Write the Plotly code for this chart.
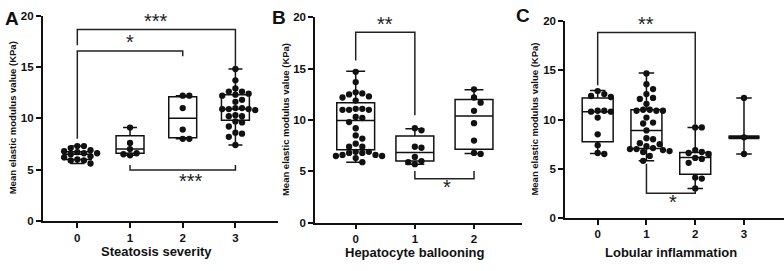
import plotly.graph_objects as go

W, H = 784, 271
FONT = "Liberation Sans"
INK = "#111111"

# ---------------- data ----------------
# Panel A: Steatosis severity
A_ticks = ["0", "1", "2", "3"]
A_g0 = [7.3, 7.3, 7.1, 6.9, 6.8, 6.7, 6.6, 6.6, 6.5, 6.3, 6.2, 6.0, 5.9, 5.9, 5.6]
A_g1 = [9.1, 7.6, 7.0, 6.6, 6.5, 6.4]
A_g2 = [12.2, 12.2, 11.0, 8.9, 8.0, 8.0]
A_g3 = [14.8, 13.7, 12.9, 12.6, 12.6, 12.4, 12.3, 12.2, 11.8, 11.6, 11.0, 11.0, 10.9,
        10.9, 10.9, 10.8, 10.3, 10.2, 10.2, 9.7, 9.6, 9.2, 8.6, 8.5, 8.2, 7.4]
A_q1 = [6.0, 6.6, 8.1, 9.8]
A_med = [6.5, 7.0, 10.0, 10.9]
A_q3 = [6.75, 8.3, 12.1, 12.3]
A_lo = [5.6, 6.4, 8.0, 7.4]
A_hi = [7.3, 9.1, 12.2, 14.8]

# Panel B: Hepatocyte ballooning
B_ticks = ["0", "1", "2"]
B_g0 = [14.7, 13.7, 12.7, 12.6, 12.5, 12.3, 12.2, 11.9, 11.1, 11.0, 11.0, 11.0, 11.1,
        10.3, 10.2, 9.8, 9.2, 8.5, 8.2, 7.7, 7.4, 7.4, 6.9, 6.9, 6.8, 6.8, 6.6, 6.6,
        6.5, 6.5, 6.3, 5.9]
B_g1 = [9.2, 9.0, 7.4, 7.3, 6.4, 6.0, 5.9, 5.7]
B_g2 = [13.0, 12.2, 11.7, 10.9, 9.7, 8.0, 6.8, 6.7]
B_q1 = [7.1, 6.0, 7.15]
B_med = [9.95, 6.85, 10.4]
B_q3 = [11.7, 8.45, 12.0]
B_lo = [5.9, 5.7, 6.75]
B_hi = [14.75, 9.15, 12.95]

# Panel C: Lobular inflammation
C_ticks = ["0", "1", "2", "3"]
C_g0 = [12.9, 12.6, 12.4, 12.3, 10.9, 10.9, 10.8, 10.8, 10.2, 8.5, 7.4, 6.6, 6.5]
C_g1 = [14.7, 13.6, 13.1, 12.6, 12.2, 12.1, 11.6, 11.0, 11.0, 10.9, 10.9, 10.9, 10.2,
        9.7, 9.6, 8.9, 8.1, 8.0, 7.6, 7.5, 7.3, 7.1, 7.0, 7.0, 6.9, 6.8, 6.7, 6.3, 5.8]
C_g2 = [9.2, 9.2, 6.9, 6.7, 6.6, 6.5, 6.1, 6.0, 5.6, 4.1, 4.0, 3.0]
C_g3 = [12.2, 8.2, 6.5]
C_q1 = [7.75, 7.05, 4.45, 8.2]
C_med = [10.8, 8.9, 6.15, 8.2]
C_q3 = [12.2, 11.0, 6.65, 8.2]
C_lo = [6.55, 5.8, 3.0, 6.5]
C_hi = [12.95, 14.75, 9.2, 12.2]

Y_TICKS = [0, 5, 10, 15, 20]

# significance brackets: (from, to, bar y, leg-end y from, leg-end y to, label, label x, label y)
A_sig = [(0, 3, 18.64, 17.1, 15.0, "***", 1.5, 19.45),
         (0, 2, 16.55, 8.0, 16.05, "*", 1.0, 17.4),
         (1, 3, 4.97, 5.45, 5.45, "***", 2.15, 3.85)]
B_sig = [(0, 1, 18.57, 15.8, 10.47, "**", 0.5, 19.35),
         (1, 2, 4.29, 5.03, 5.03, "*", 1.54, 3.45)]
C_sig = [(0, 2, 18.87, 13.5, 9.5, "**", 1.0, 19.7),
         (1, 2, 2.5, 5.5, 2.8, "*", 1.55, 1.65)]

# ---------------- layout geometry (px) ----------------
panels = [
    dict(groups=[A_g0, A_g1, A_g2, A_g3], ticks=A_ticks, q1=A_q1, med=A_med, q3=A_q3,
         lo=A_lo, hi=A_hi, sig=A_sig, title="Steatosis severity", letter="A",
         xpx=(42.7, 278.0), xr=(-0.657, 3.808), ypx=(10.0, 225.0), bw=0.53,
         ytitle_x=12, xtitle_y=256.5, letter_xy=(12, 13)),
    dict(groups=[B_g0, B_g1, B_g2], ticks=B_ticks, q1=B_q1, med=B_med, q3=B_q3,
         lo=B_lo, hi=B_hi, sig=B_sig, title="Hepatocyte ballooning", letter="B",
         xpx=(315.0, 521.7), xr=(-0.688, 2.806), ypx=(12.0, 226.7), bw=0.64,
         ytitle_x=285, xtitle_y=257.5, letter_xy=(279, 12)),
    dict(groups=[C_g0, C_g1, C_g2, C_g3], ticks=C_ticks, q1=C_q1, med=C_med, q3=C_q3,
         lo=C_lo, hi=C_hi, sig=C_sig, title="Lobular inflammation", letter="C",
         xpx=(565.0, 783.5), xr=(-0.67, 3.81), ypx=(16.0, 221.7), bw=0.635,
         ytitle_x=535, xtitle_y=257.5, letter_xy=(523, 10)),
]


def swarm(vals, ppx, ppy, d=6.6):
    placed = []
    out = [0.0] * len(vals)
    order = sorted(range(len(vals)), key=lambda i: -vals[i])
    cands = [0.0]
    for k in range(1, 30):
        cands += [k * d / 2, -k * d / 2]
    for i in order:
        y = vals[i] * ppy
        for c in cands:
            if all((c - px) ** 2 + (y - py) ** 2 >= (d * 0.97) ** 2 for px, py in placed):
                placed.append((c, y))
                out[i] = c / ppx
                break
    return out


fig = go.Figure()
shapes, annotations = [], []
for n, p in enumerate(panels):
    ax = "" if n == 0 else str(n + 1)
    xref, yref = "x" + ax, "y" + ax
    dom_x = [p["xpx"][0] / W, p["xpx"][1] / W]
    dom_y = [(H - p["ypx"][1]) / H, (H - p["ypx"][0]) / H]
    ppx = (p["xpx"][1] - p["xpx"][0]) / (p["xr"][1] - p["xr"][0])
    ppy = (p["ypx"][1] - p["ypx"][0]) / 20.0
    cats = list(range(len(p["groups"])))
    fig.add_trace(go.Box(
        x=cats, q1=p["q1"], median=p["med"], q3=p["q3"],
        lowerfence=p["lo"], upperfence=p["hi"], width=p["bw"], whiskerwidth=0.5,
        line=dict(color=INK, width=1.5), fillcolor="rgba(0,0,0,0)",
        boxpoints=False, xaxis=xref, yaxis=yref, showlegend=False, hoverinfo="skip"))
    xs, ys = [], []
    for c, g in zip(cats, p["groups"]):
        offs = swarm(g, ppx, ppy)
        xs += [c + o for o in offs]
        ys += g
    fig.add_trace(go.Scatter(x=xs, y=ys, mode="markers",
                             marker=dict(color=INK, size=6.3),
                             xaxis=xref, yaxis=yref, showlegend=False))
    # collapsed box (equal quartiles) drawn with a thick median bar
    for c in cats:
        if p["q1"][c] == p["q3"][c]:
            fig.add_trace(go.Scatter(x=[c - p["bw"] / 2, c + p["bw"] / 2],
                                     y=[p["med"][c]] * 2, mode="lines",
                                     line=dict(color=INK, width=4),
                                     xaxis=xref, yaxis=yref, showlegend=False))
    for (a, b, ybar, ya, yb, lab, lx, ly) in p["sig"]:
        shapes.append(dict(type="path", xref=xref, yref=yref,
                           path=f"M {a},{ya} L {a},{ybar} L {b},{ybar} L {b},{yb}",
                           line=dict(color="#222222", width=1.5)))
        annotations.append(dict(text=lab, x=lx, y=ly, xref=xref, yref=yref,
                                showarrow=False, font=dict(family=FONT, size=20, color="#222222"),
                                xanchor="center", yanchor="middle"))
    tf = dict(family=FONT, size=11.5, color=INK, weight="bold")
    fig.update_layout({
        "xaxis" + ax: dict(domain=dom_x, range=list(p["xr"]), anchor=yref,
                           tickvals=cats, ticktext=p["ticks"], ticks="outside", ticklen=5,
                           tickwidth=1.5, tickcolor=INK, showline=True, linecolor=INK,
                           linewidth=1.5, showgrid=False, zeroline=False, tickfont=tf),
        "yaxis" + ax: dict(domain=dom_y, range=[0, 20], anchor=xref,
                           tickvals=Y_TICKS, ticks="outside", ticklen=5, tickwidth=1.5,
                           tickcolor=INK, showline=True, linecolor=INK, linewidth=1.5,
                           showgrid=False, zeroline=False, tickfont=tf),
    })
    ymid = (p["ypx"][0] + p["ypx"][1]) / 2
    annotations.append(dict(text="<b>Mean elastic modulus value (KPa)</b>",
                            x=p["ytitle_x"] / W, y=1 - ymid / H, xref="paper", yref="paper",
                            textangle=-90, showarrow=False, xanchor="center", yanchor="middle",
                            font=dict(family=FONT, size=9.5, color=INK)))
    xmid = (p["xpx"][0] + (0 - p["xr"][0]) * ppx + p["xpx"][0] + (len(cats) - 1 - p["xr"][0]) * ppx) / 2
    annotations.append(dict(text="<b>" + p["title"] + "</b>",
                            x=xmid / W, y=1 - p["xtitle_y"] / H, xref="paper", yref="paper",
                            showarrow=False, xanchor="center", yanchor="middle",
                            font=dict(family=FONT, size=13, color=INK)))
    annotations.append(dict(text="<b>" + p["letter"] + "</b>",
                            x=p["letter_xy"][0] / W, y=1 - p["letter_xy"][1] / H,
                            xref="paper", yref="paper", showarrow=False,
                            xanchor="center", yanchor="middle",
                            font=dict(family=FONT, size=19, color=INK)))

fig.update_layout(width=W, height=H, margin=dict(l=0, r=0, t=0, b=0),
                  paper_bgcolor="white", plot_bgcolor="white",
                  shapes=shapes, annotations=annotations, showlegend=False)
fig.write_html("out.html", config={"displayModeBar": False},
               post_script="document.body.style.margin='0';document.body.style.overflow='hidden';")
